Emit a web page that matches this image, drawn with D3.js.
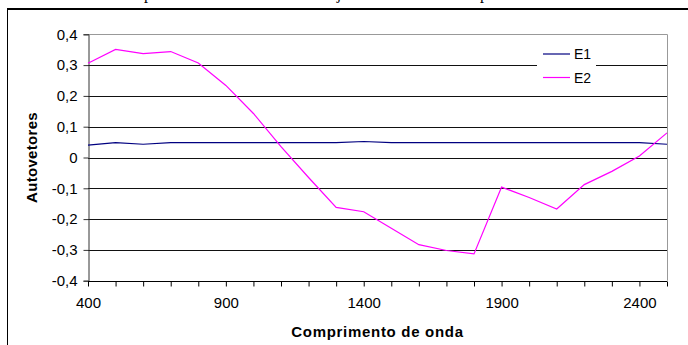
<!DOCTYPE html>
<html><head><meta charset="utf-8">
<script src="https://cdn.jsdelivr.net/npm/d3@7"></script>
<style>body{margin:0;background:#fff}svg{display:block}</style>
</head><body>
<script>
const wavelengths = [400,500,600,700,800,900,1000,1100,1200,1300,1400,1500,1600,1700,1800,1900,2000,2100,2200,2300,2400,2500];
const E1 = [0.040,0.048,0.043,0.048,0.048,0.048,0.048,0.048,0.048,0.048,0.052,0.048,0.048,0.048,0.048,0.048,0.048,0.048,0.048,0.048,0.048,0.043];
const E2 = [0.306,0.351,0.337,0.344,0.307,0.234,0.143,0.035,-0.065,-0.162,-0.176,-0.230,-0.283,-0.302,-0.313,-0.096,-0.130,-0.167,-0.088,-0.045,0.005,0.080];
const seriesNames = ["E1","E2"];
const seriesColors = ["#000080","#FF00FF"];
const yTicks = [-0.4,-0.3,-0.2,-0.1,0,0.1,0.2,0.3,0.4];
const xLabelTicks = [400,900,1400,1900,2400];
const xMinorTicks = d3.range(400,2501,100);

const W=688,H=345;
const svg=d3.select("body").append("svg").attr("width",W).attr("height",H);
const font="Liberation Sans, Arial, sans-serif";

// cut-off caption glyph descenders at top (as in the reference)
[["p",148],["j",339],["p",484]].forEach(([t,x])=>{
  svg.append("text").attr("x",x).attr("y",-1).attr("text-anchor","middle")
    .attr("font-family","Liberation Serif, Times New Roman, serif").attr("font-size",16).text(t);
});
// outer frame
svg.append("line").attr("x1",7).attr("x2",W).attr("y1",9).attr("y2",9).attr("stroke","#000").attr("stroke-width",2);
svg.append("line").attr("x1",7.5).attr("x2",7.5).attr("y1",9).attr("y2",H).attr("stroke","#000").attr("stroke-width",1);

const L=88,R=667,T=34.3,B=280.7;
const x=d3.scaleLinear().domain([400,2500]).range([L,R]);
const y=d3.scaleLinear().domain([-0.4,0.4]).range([B,T]);

// gridlines
svg.append("g").selectAll("line").data(yTicks.filter(v=>v>-0.35&&v<0.35)).join("line")
  .attr("x1",L).attr("x2",R).attr("y1",d=>Math.round(y(d))+0.5).attr("y2",d=>Math.round(y(d))+0.5)
  .attr("stroke","#111").attr("stroke-width",1);
// plot border top and right (gray)
svg.append("line").attr("x1",L).attr("x2",R).attr("y1",Math.round(T)+0.5).attr("y2",Math.round(T)+0.5).attr("stroke","#999");
svg.append("line").attr("x1",R+0.5).attr("x2",R+0.5).attr("y1",T).attr("y2",B).attr("stroke","#999");

// y axis
const yAxis=d3.axisLeft(y).tickValues(yTicks).tickSize(5).tickPadding(6)
  .tickFormat(d=>d===0?"0":d3.format(".1f")(d).replace(".",",").replace("−","-"));
const gy=svg.append("g").attr("transform",`translate(${L+0.5},0)`).call(yAxis);
gy.select(".domain").attr("stroke","#333");
gy.selectAll(".tick line").attr("stroke","#333");
gy.selectAll("text").attr("font-family",font).attr("font-size",15).attr("fill","#000");

// x axis
const xAxis=d3.axisBottom(x).tickValues(xMinorTicks).tickSize(5).tickPadding(11)
  .tickFormat(d=>xLabelTicks.includes(d)?d:"");
const gx=svg.append("g").attr("transform",`translate(0,${Math.round(B)+0.5})`).call(xAxis);
gx.select(".domain").attr("stroke","#000").attr("d",`M${L},0H${R}`);
gx.selectAll(".tick line").attr("stroke","#000");
gx.selectAll("text").attr("font-family",font).attr("font-size",15).attr("fill","#000");

// lines
const line=d3.line().x((d,i)=>x(wavelengths[i])).y(d=>y(d));
[E1,E2].forEach((s,k)=>{
  svg.append("path").datum(s).attr("d",line).attr("fill","none")
    .attr("stroke",seriesColors[k]).attr("stroke-width",1.2);
});

// legend
const lg=svg.append("g");
lg.append("rect").attr("x",537).attr("y",44).attr("width",59).attr("height",44).attr("fill","#fff");
seriesNames.forEach((n,k)=>{
  const yy=54+k*23.5;
  lg.append("line").attr("x1",543).attr("x2",570).attr("y1",yy).attr("y2",yy).attr("stroke",seriesColors[k]).attr("stroke-width",1.2);
  lg.append("text").attr("x",574).attr("y",yy+5).attr("font-family",font).attr("font-size",14).text(n);
});

// axis titles
svg.append("text").attr("x",(L+R)/2).attr("y",336.5).attr("text-anchor","middle")
  .attr("font-family",font).attr("font-size",15).attr("font-weight","bold").attr("letter-spacing",0.7).text("Comprimento de onda");
svg.append("text").attr("transform",`translate(37,${(T+B)/2}) rotate(-90)`).attr("text-anchor","middle")
  .attr("font-family",font).attr("font-size",15).attr("font-weight","bold").attr("letter-spacing",0.3).text("Autovetores");
</script>
</body></html>
